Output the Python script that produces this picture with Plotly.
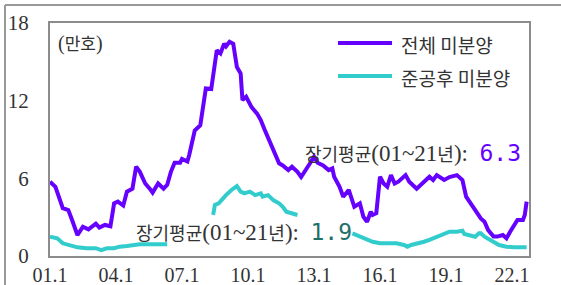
import plotly.graph_objects as go

# ---- data (만호) ----
total_dates = ["2001-01","2001-04","2001-08","2001-11","2002-01","2002-04","2002-07","2002-10",
               "2003-02","2003-04","2003-07","2003-10","2003-12","2004-02","2004-05","2004-07",
               "2004-10","2004-12","2005-02","2005-05","2005-08","2005-09","2005-12","2006-03",
               "2006-05","2006-07","2006-09","2006-12","2007-01","2007-04","2007-05","2007-06",
               "2007-08","2007-11","2008-01","2008-02","2008-05","2008-08","2008-10","2008-12",
               "2009-01","2009-03","2009-05","2009-07","2009-09","2009-10","2009-12","2010-03",
               "2010-06","2010-08","2010-10","2011-01","2011-04","2011-06","2011-08","2011-11",
               "2012-01","2012-04","2012-06","2012-08","2012-11","2013-01","2013-03","2013-06",
               "2013-09","2013-11","2013-12","2014-03","2014-05","2014-08","2014-10","2014-11",
               "2015-02","2015-04","2015-06","2015-08","2015-09","2015-11","2016-01","2016-03",
               "2016-05","2016-07","2016-09","2016-11","2017-03","2017-05","2017-09","2017-12",
               "2018-02","2018-04","2018-06","2018-08","2018-12","2019-03","2019-07","2019-10",
               "2019-12","2020-03","2020-06","2020-08","2020-10","2020-12","2021-03","2021-05",
               "2021-08","2021-10","2021-12","2022-02","2022-04","2022-07","2022-08","2022-09"]
total_values = [5.74,5.35,3.7,3.55,2.8,1.62,2.26,2.06,
                2.5,2.2,2.4,2.3,4.07,4.2,3.9,4.97,
                5.2,6.9,6.5,5.6,5.1,4.9,5.6,5.2,
                5.5,6.5,7.2,7.2,7.5,7.3,7.8,8.4,
                9.7,10.1,11.8,12.95,12.9,15.9,15.65,16.4,
                16.2,16.55,16.4,14.6,14.1,12.05,12.3,11.5,
                11.0,10.5,9.8,8.8,7.67,7.16,7.0,6.64,
                6.9,6.5,6.1,6.5,7.2,7.67,7.2,7.0,
                6.64,6.77,6.12,5.35,4.58,5.1,4.07,3.8,
                4.07,3.03,2.65,3.42,3.17,3.3,6.12,5.6,
                5.35,6.25,5.6,5.74,6.25,5.74,5.2,5.6,
                5.87,6.12,5.87,6.25,5.87,6.1,6.25,5.87,
                4.58,3.94,3.42,2.9,2.65,2.0,1.5,1.5,
                1.62,1.37,1.88,2.4,2.78,2.78,3.17,4.2]

# 준공후 미분양 (None = hidden behind the long-run-average label)
comp_dates = ["2001-01","2001-05","2001-08","2001-12","2002-04","2002-09","2003-02","2003-05",
              "2003-08","2003-12","2004-03","2004-07","2004-10","2005-02","2005-08","2006-01",
              "2006-05","2006-06",
              "2008-06","2008-07","2008-09","2008-11","2009-01","2009-04","2009-07","2009-09",
              "2009-11","2010-02","2010-05","2010-08","2010-09","2010-12","2011-03","2011-06",
              "2011-08","2011-10","2012-01","2012-04","2012-05",
              "2014-10","2015-02","2015-06","2015-09","2016-01","2016-06","2016-10","2017-02",
              "2017-04","2017-06","2017-09","2018-01","2018-04","2018-08","2018-12","2019-03",
              "2019-07","2019-10","2019-11","2020-02","2020-05","2020-07","2020-08","2020-10",
              "2021-01","2021-04","2021-06","2021-10","2022-02","2022-09"]
comp_values = [1.49,1.37,0.98,0.85,0.67,0.6,0.6,0.46,
               0.6,0.6,0.72,0.77,0.85,0.9,0.9,0.9,
               0.9,None,
               3.17,3.94,4.07,4.45,4.7,5.1,5.4,4.97,
               4.84,4.97,4.7,4.84,4.58,4.7,4.3,4.07,
               3.8,3.42,3.3,3.17,None,
               1.75,1.49,1.24,1.1,0.98,0.98,0.98,0.85,
               0.72,0.85,0.93,1.1,1.24,1.49,1.75,1.88,
               1.88,1.95,1.7,1.62,1.49,1.75,1.75,1.49,
               1.24,0.98,0.85,0.72,0.67,0.67]

series_names = ["전체 미분양", "준공후 미분양"]
avg_total = "6.3"
avg_comp = "1.9"
unit_label = "(만호)"

tick_vals = ["2001-01-01","2004-01-01","2007-01-01","2010-01-01",
             "2013-01-01","2016-01-01","2019-01-01","2022-01-01"]
tick_text = ["01.1","04.1","07.1","10.1","13.1","16.1","19.1","22.1"]
y_ticks = [0, 6, 12, 18]

PURPLE = "#6600FF"
CYAN = "#33CCCC"
TEAL = "#1E6F6B"
TXT = "#333333"
FRAME = "#8C8C8C"
SERIF = "Liberation Serif"
KR = "Noto Sans CJK KR"


def avg_text(value, color):
    kr = "<span style='font-family:Noto Sans CJK KR;font-size:18px'>%s</span>"
    return (kr % "장기평균") + "(01~21" + (kr % "년") + "):  " + \
        "<span style='color:%s;font-family:DejaVu Sans Mono;font-size:23px'>%s</span>" % (color, value)


fig = go.Figure()
fig.add_trace(go.Scatter(x=comp_dates, y=comp_values, mode="lines",
                         line=dict(color=CYAN, width=4), name=series_names[1],
                         connectgaps=False, showlegend=False))
fig.add_trace(go.Scatter(x=total_dates, y=total_values, mode="lines",
                         line=dict(color=PURPLE, width=4), name=series_names[0],
                         showlegend=False))

# manual legend
def px_x(p):
    return (p - 50) / 479.0
def px_y(p):
    return (256 - p) / 233.0

shapes = []
for row_y, col in [(43, PURPLE), (76, CYAN)]:
    shapes.append(dict(type="line", xref="paper", yref="paper",
                       x0=px_x(338), x1=px_x(392), y0=px_y(row_y), y1=px_y(row_y),
                       line=dict(color=col, width=4)))
# outer frame (left and top edges)
shapes.append(dict(type="line", xref="paper", yref="paper",
                   x0=px_x(5), x1=px_x(5), y0=px_y(300), y1=px_y(5),
                   line=dict(color="#999999", width=2)))
shapes.append(dict(type="line", xref="paper", yref="paper",
                   x0=px_x(5), x1=px_x(575), y0=px_y(5), y1=px_y(5),
                   line=dict(color="#999999", width=2)))

annotations = [
    dict(text=series_names[0], xref="paper", yref="paper", x=px_x(399), y=px_y(44),
         xanchor="left", yanchor="middle", showarrow=False,
         font=dict(family=KR, size=19, color=TXT)),
    dict(text=series_names[1], xref="paper", yref="paper", x=px_x(399), y=px_y(77),
         xanchor="left", yanchor="middle", showarrow=False,
         font=dict(family=KR, size=19, color=TXT)),
    dict(text="(<span style='font-family:Noto Sans CJK KR;font-size:17px'>만호</span>)",
         xref="paper", yref="paper", x=px_x(56), y=px_y(42),
         xanchor="left", yanchor="middle", showarrow=False,
         font=dict(family=SERIF, size=20, color=TXT)),
    dict(text=avg_text(avg_total, PURPLE),
         xref="paper", yref="paper", x=px_x(523), y=px_y(153),
         xanchor="right", yanchor="middle", showarrow=False,
         font=dict(family=SERIF, size=23, color=TXT)),
    dict(text=avg_text(avg_comp, TEAL),
         xref="paper", yref="paper", x=px_x(354), y=px_y(232),
         xanchor="right", yanchor="middle", showarrow=False,
         font=dict(family=SERIF, size=23, color=TXT)),
]

fig.update_layout(
    width=561, height=285,
    margin=dict(l=50, r=32, t=23, b=29, autoexpand=False),
    paper_bgcolor="white", plot_bgcolor="white",
    shapes=shapes, annotations=annotations,
    showlegend=False,
    xaxis=dict(type="date", range=["2001-01-01", "2022-10-10"],
               tickmode="array", tickvals=tick_vals, ticktext=tick_text,
               showgrid=False, zeroline=False, ticks="", automargin=False,
               showline=True, mirror=True, linecolor=FRAME, linewidth=2,
               tickfont=dict(family=SERIF, size=20, color=TXT),
               ticklabelstandoff=0),
    yaxis=dict(range=[0, 18], tickmode="array", tickvals=y_ticks,
               showgrid=False, zeroline=False, ticks="", automargin=False,
               showline=True, mirror=True, linecolor=FRAME, linewidth=2,
               tickfont=dict(family=SERIF, size=21, color=TXT),
               ticklabelstandoff=15),
)

fig.write_html("out.html", config={"displayModeBar": False},
               post_script="document.body.style.margin='0';document.body.style.overflow='hidden';")
